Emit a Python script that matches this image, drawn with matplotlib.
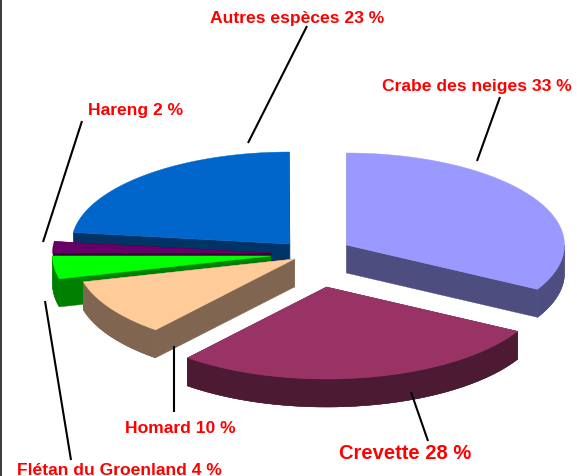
import numpy as np
import matplotlib
matplotlib.use('Agg')
import matplotlib.pyplot as plt
from matplotlib.patches import Polygon, Rectangle

plt.rcParams['font.family'] = ['Liberation Sans', 'DejaVu Sans']

# parts de chaque espece, sens horaire a partir du haut
especes = ['Crabe des neiges', 'Crevette', 'Homard', 'Flétan du Groenland', 'Hareng', 'Autres espèces']
parts = [33, 28, 10, 4, 2, 23]
couleurs = ['#9999FF', '#993366', '#FFCC99', '#00FF00', '#660066', '#0066CC']
cotes = ['#4D4D80', '#4D1A33', '#806650', '#008000', '#330033', '#003366']

# pointe de chaque part en pixels
centres = [(346.5, 246), (326.5, 288), (294.5, 260), (270.5, 257), (270.5, 254), (289.5, 245)]
ordre = [5, 4, 3, 2, 0, 1]

rx = 218
ry = 92
prof = 28

W, H = 577, 477
fig = plt.figure(figsize=(W / 100, H / 100), dpi=100)
ax = fig.add_axes([0, 0, 1, 1])
ax.set_xlim(0, W)
ax.set_ylim(H, 0)
ax.axis('off')


def arc(c, a1, a2):
    t = np.radians(np.linspace(a1, a2, 100))
    return np.column_stack([c[0] + rx * np.cos(t), c[1] - ry * np.sin(t)])


def part_3d(c, a1, a2, top, side):
    # faces radiales, puis paroi exterieure, puis dessus
    for a in (a1, a2):
        p = arc(c, a, a)[0]
        face = [c, p, (p[0], p[1] + prof), (c[0], c[1] + prof)]
        ax.add_patch(Polygon(face, closed=True, fc=side, ec=side, lw=0.3))
    # seulement la moitie avant de l'ellipse est visible
    b1 = max(a1, -180)
    b2 = min(a2, 0)
    for x1, x2 in [(b1, b2), (b1 - 360, b2 - 360)]:
        if x1 < x2:
            bord = arc(c, x1, x2)
            bas = bord[::-1] + [0, prof]
            ax.add_patch(Polygon(np.vstack([bord, bas]), closed=True, fc=side, ec=side, lw=0.3))
    dessus = np.vstack([[c], arc(c, a1, a2)])
    ax.add_patch(Polygon(dessus, closed=True, fc=top, ec=top, lw=0.3))


cumul = 90 - 3.6 * np.cumsum([0] + parts)
for i in ordre:
    part_3d(centres[i], cumul[i + 1], cumul[i], couleurs[i], cotes[i])

# traits de rappel
traits = [((477, 162), (500, 98)), ((411, 393), (428, 442)), ((174, 347), (174, 413)),
          ((45, 302), (71, 461)), ((43, 243), (82, 122)), ((248, 144), (307, 27))]
for a, b in traits:
    ax.plot([a[0], b[0]], [a[1], b[1]], color='black', lw=1.5, solid_capstyle='butt')

# etiquettes
etiq_pos = [(477, 86, 12.6), (405.5, 454, 14.5), (180.5, 429, 12.6), (119.5, 471, 12.6), (135.5, 110, 12.6), (297.5, 19, 12.6)]
for nom, p, (x, y, fs) in zip(especes, parts, etiq_pos):
    ax.text(x, y, f'{nom} {p} %', color='#FF0000', fontsize=fs, fontweight='bold', ha='center', va='center')

# bord gauche de la capture
ax.add_patch(Rectangle((0, 0), 2, H, fc='#404040', ec='none'))

fig.savefig('out.png', dpi=100)
